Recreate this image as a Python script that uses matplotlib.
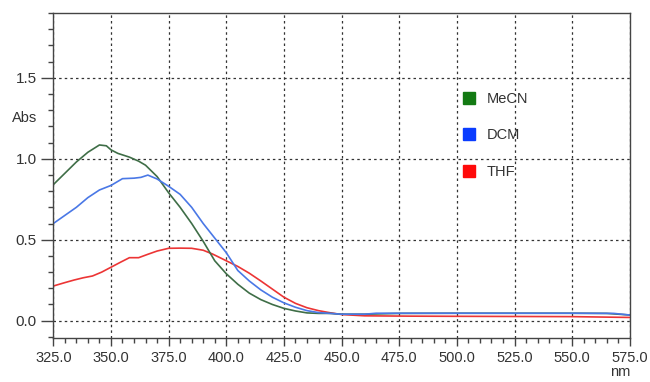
import matplotlib
matplotlib.use("Agg")
import matplotlib.pyplot as plt
from matplotlib.lines import Line2D
from matplotlib.ticker import MultipleLocator, FormatStrFormatter

plt.rcParams['font.family'] = ['Liberation Sans', 'DejaVu Sans']

# MeCN
wl_mecn = [325, 330, 335, 340, 345, 348, 350, 353, 358, 362, 365, 370, 375, 380, 385,
           390, 395, 400, 405, 410, 415, 420, 425, 430, 435, 440, 445, 450, 460, 475,
           500, 525, 550, 565, 570, 575]
abs_mecn = [0.84, 0.91, 0.98, 1.04, 1.085, 1.08, 1.055, 1.033, 1.01, 0.985, 0.96, 0.89,
            0.79, 0.70, 0.60, 0.49, 0.37, 0.29, 0.225, 0.17, 0.13, 0.10, 0.076, 0.06,
            0.048, 0.045, 0.045, 0.04, 0.04, 0.045, 0.046, 0.046, 0.046, 0.045, 0.04, 0.035]

# DCM
wl_dcm = [325, 330, 335, 340, 345, 350, 355, 360, 363, 366, 370, 375, 380, 385, 390,
          395, 400, 405, 410, 415, 420, 425, 430, 435, 440, 445, 450, 460, 465, 500,
          550, 568, 575]
abs_dcm = [0.60, 0.65, 0.70, 0.76, 0.807, 0.835, 0.877, 0.88, 0.885, 0.899, 0.875, 0.83,
           0.78, 0.70, 0.60, 0.51, 0.42, 0.31, 0.245, 0.19, 0.145, 0.11, 0.083, 0.062,
           0.05, 0.045, 0.04, 0.04, 0.046, 0.046, 0.046, 0.045, 0.035]

# THF
wl_thf = [325, 330, 334, 338, 342, 346, 350, 354, 358, 362, 366, 370, 375, 380, 385,
          390, 394, 400, 405, 410, 415, 420, 425, 430, 435, 440, 445, 450, 460, 480,
          500, 525, 550, 575]
abs_thf = [0.214, 0.235, 0.251, 0.265, 0.276, 0.30, 0.33, 0.36, 0.389, 0.389, 0.41, 0.43,
           0.447, 0.448, 0.447, 0.435, 0.412, 0.37, 0.335, 0.293, 0.245, 0.195, 0.145,
           0.107, 0.08, 0.062, 0.049, 0.038, 0.03, 0.028, 0.027, 0.026, 0.025, 0.02]

solvents = ['MeCN', 'DCM', 'THF']
line_colors = ['#3f6e47', '#4a78e6', '#ec3535']
legend_colors = ['#137a13', '#0a3cff', '#ff0a0a']

fig = plt.figure(figsize=(6.5, 3.82), dpi=100)
ax = fig.add_axes([0.082, 0.116, 0.887, 0.85])

ax.plot(wl_thf, abs_thf, color=line_colors[2], lw=1.2)
ax.plot(wl_mecn, abs_mecn, color=line_colors[0], lw=1.2)
ax.plot(wl_dcm, abs_dcm, color=line_colors[1], lw=1.2)

ax.set_xlim(325, 575)
ax.set_ylim(-0.105, 1.9)
ax.xaxis.set_major_locator(MultipleLocator(25))
ax.xaxis.set_minor_locator(MultipleLocator(5))
ax.yaxis.set_major_locator(MultipleLocator(0.5))
ax.yaxis.set_minor_locator(MultipleLocator(0.1))
ax.xaxis.set_major_formatter(FormatStrFormatter('%.1f'))
ax.yaxis.set_major_formatter(FormatStrFormatter('%.1f'))

ax.grid(True, which='major', color='#333333', lw=0.9, linestyle=(0, (2, 2.5)))
ax.tick_params(axis='x', which='major', length=5.5, width=1, color='#444444',
               labelsize=10.5, labelcolor='#333333', pad=4)
ax.tick_params(axis='x', which='minor', length=3.5, width=1, color='#444444')
ax.tick_params(axis='y', which='major', length=9, width=1, color='#444444',
               labelsize=11, labelcolor='#333333', pad=3)
ax.tick_params(axis='y', which='minor', length=3.5, width=1, color='#444444')
for s in ax.spines.values():
    s.set_color('#444444')
    s.set_linewidth(1)

fig.text(25 / 650, 1 - 118 / 382, 'Abs', ha='center', va='center', fontsize=10.5,
         color='#333333')
fig.text(620 / 650, 1 - 372 / 382, 'nm', ha='center', va='center', fontsize=10.5,
         color='#333333')

handles = [Line2D([], [], linestyle='none', marker='s', markersize=8,
                  markerfacecolor=c, markeredgecolor=c) for c in legend_colors]
ax.legend(handles, solvents, loc='upper left', bbox_to_anchor=(0.696, 0.78),
          frameon=False, fontsize=10.5, handlelength=1, handletextpad=0.7,
          labelspacing=1.55, borderpad=0, labelcolor='#333333')

fig.savefig('out.png', dpi=100, facecolor='white')
